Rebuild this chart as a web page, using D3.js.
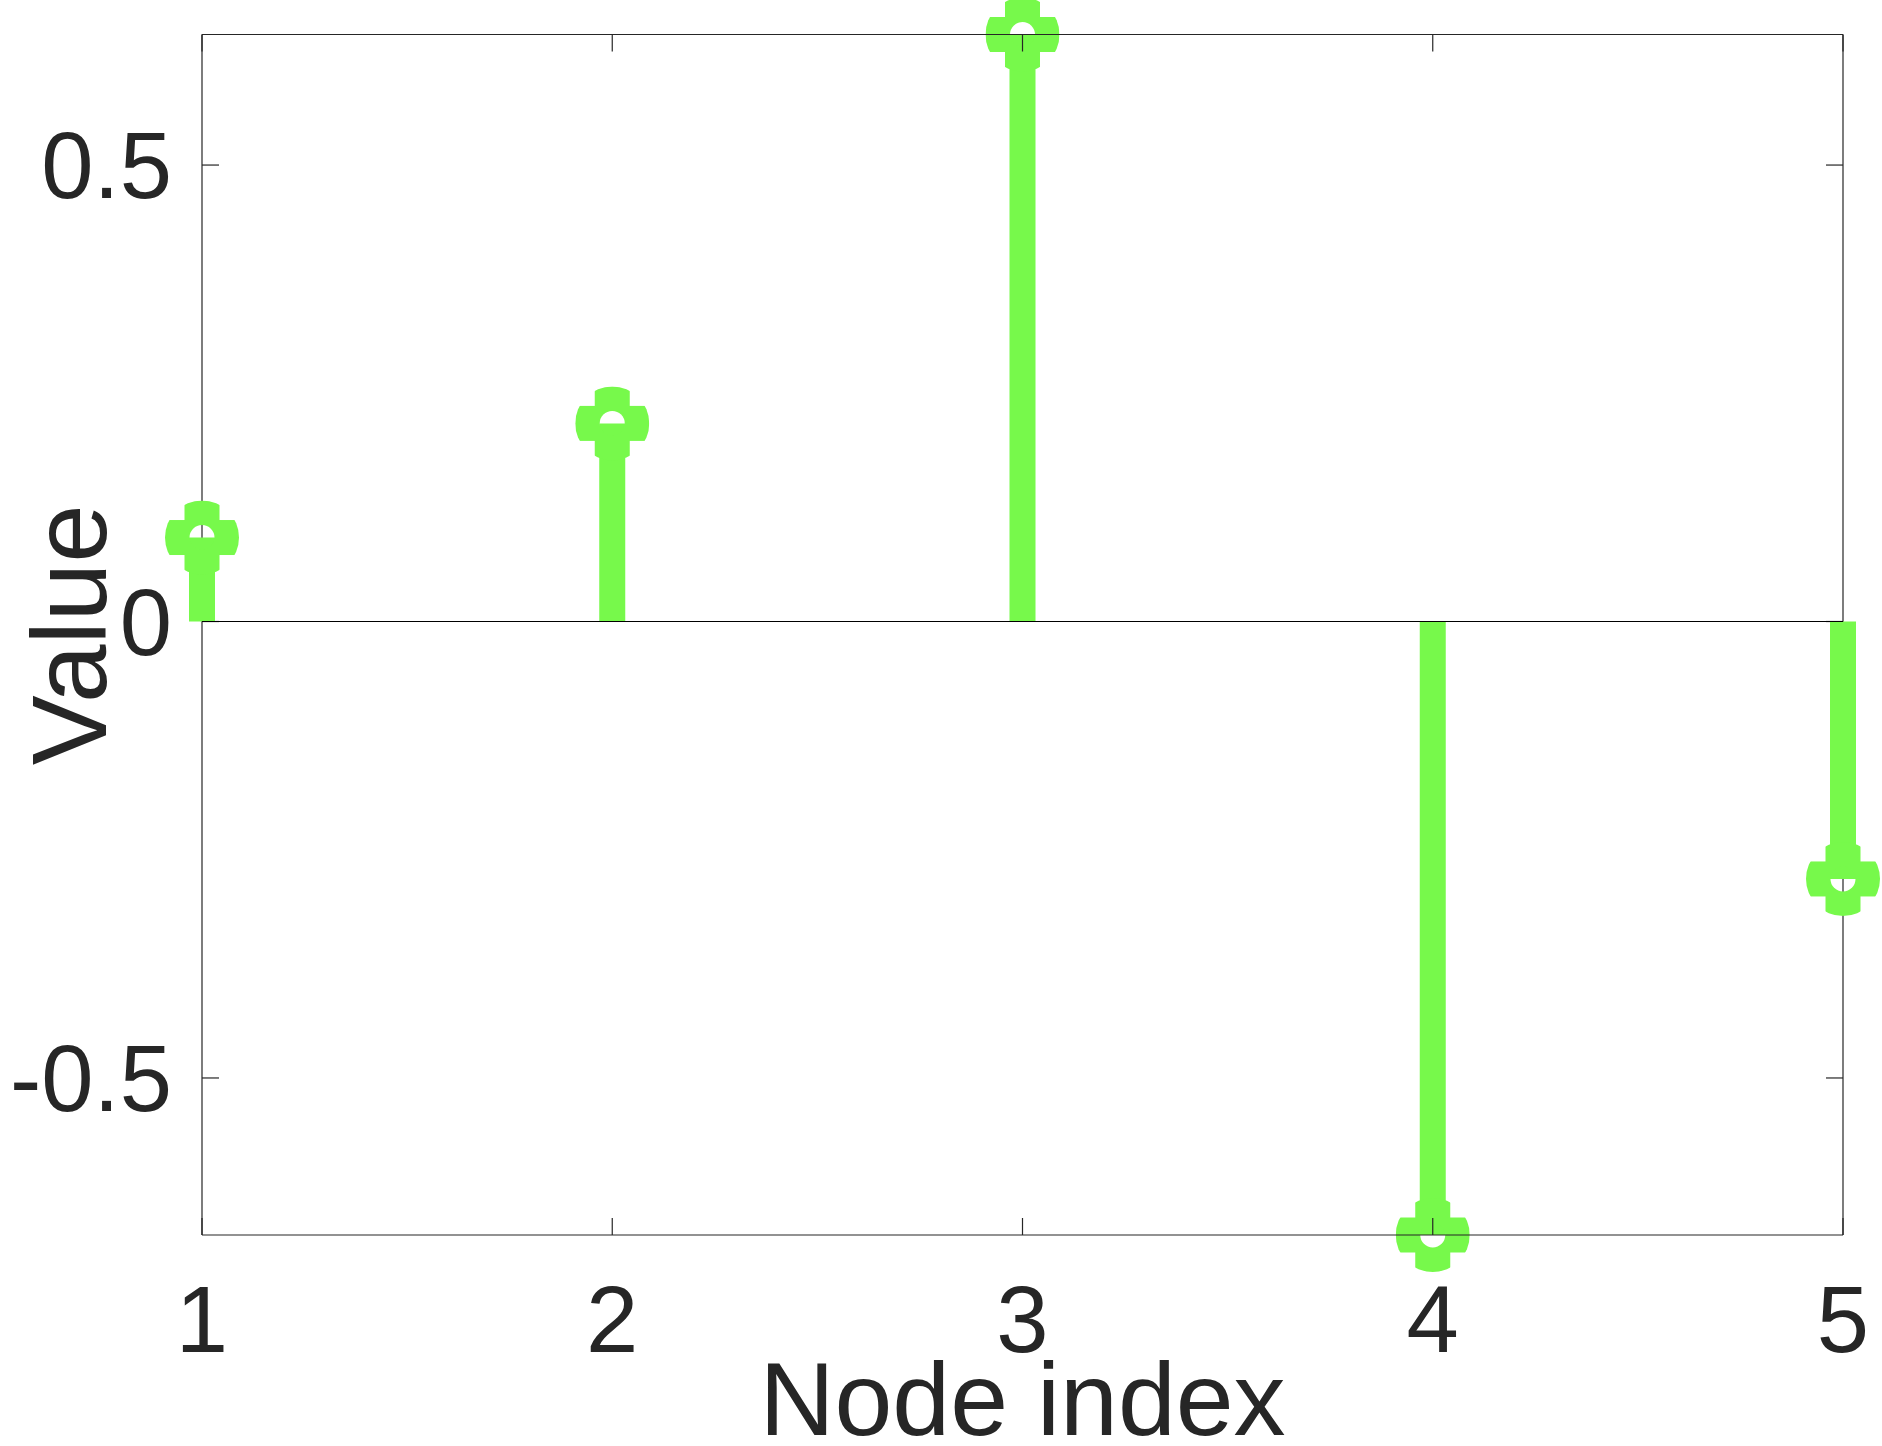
<!DOCTYPE html>
<html>
<head>
<meta charset="utf-8">
<script src="https://cdn.jsdelivr.net/npm/d3@7"></script>
<style>
  html, body { margin: 0; padding: 0; background: #fff; }
  svg { display: block; }
  text { font-family: "Liberation Sans", Arial, Helvetica, sans-serif; fill: #262626; }
</style>
</head>
<body>
<script>
// ---- data ----
const nodes = [1, 2, 3, 4, 5];
const values = [0.092, 0.217, 0.643, -0.672, -0.282];
const xTicks = [1, 2, 3, 4, 5];
const yTicks = [-0.5, 0, 0.5];
const yTickLabels = ["-0.5", "0", "0.5"];
const xLabel = "Node index";
const yLabel = "Value";

// ---- layout ----
const W = 1882, H = 1446;
const margin = { left: 202, right: 39, top: 34.5, bottom: 211 };
const green = "#77F94B";
const axisColor = "#262626";

const svg = d3.select("body").append("svg").attr("width", W).attr("height", H);

const x = d3.scaleLinear().domain([1, 5]).range([margin.left, W - margin.right]);
const y = d3.scaleLinear().domain([d3.min(values), d3.max(values)]).range([H - margin.bottom, margin.top]);

const x0 = x.range()[0], x1 = x.range()[1];
const yTop = y.range()[1], yBot = y.range()[0];
const tickLen = 17;

// marker mask: cross clipped by circle, with a hole
const R = 37, arm = 35, hole = 12.5;
const defs = svg.append("defs");
const mask = defs.append("mask").attr("id", "mk")
  .attr("maskUnits", "userSpaceOnUse")
  .attr("x", -60).attr("y", -60).attr("width", 120).attr("height", 120);
mask.append("rect").attr("x", -arm / 2).attr("y", -R).attr("width", arm).attr("height", 2 * R).attr("fill", "#fff");
mask.append("rect").attr("x", -R).attr("y", -arm / 2).attr("width", 2 * R).attr("height", arm).attr("fill", "#fff");
mask.append("circle").attr("r", hole).attr("fill", "#000");

// left & right box lines + y ticks (under data)
const under = svg.append("g").attr("stroke", axisColor).attr("stroke-width", 1.2).attr("fill", "none");
under.append("line").attr("x1", x0).attr("x2", x0).attr("y1", yTop).attr("y2", yBot);
under.append("line").attr("x1", x1).attr("x2", x1).attr("y1", yTop).attr("y2", yBot);
yTicks.forEach(t => {
  under.append("line").attr("x1", x0).attr("x2", x0 + tickLen).attr("y1", y(t)).attr("y2", y(t));
  under.append("line").attr("x1", x1).attr("x2", x1 - tickLen).attr("y1", y(t)).attr("y2", y(t));
});

const data = nodes.map((n, i) => ({ n, v: values[i] }));

// stems
svg.append("g").selectAll("line").data(data).join("line")
  .attr("x1", d => x(d.n)).attr("x2", d => x(d.n))
  .attr("y1", y(0)).attr("y2", d => y(d.v))
  .attr("stroke", green).attr("stroke-width", 26).attr("stroke-linecap", "butt");

// baseline
svg.append("line").attr("x1", x0).attr("x2", x1).attr("y1", y(0)).attr("y2", y(0))
  .attr("stroke", "#000").attr("stroke-width", 1.2);

// markers
svg.append("g").selectAll("g").data(data).join("g")
  .attr("transform", d => `translate(${x(d.n)},${y(d.v)})`)
  .append("circle").attr("r", R).attr("fill", green).attr("mask", "url(#mk)");

// top & bottom box lines + x ticks (over data)
const over = svg.append("g").attr("stroke", axisColor).attr("stroke-width", 1.2).attr("fill", "none");
over.append("line").attr("x1", x0).attr("x2", x1).attr("y1", yTop).attr("y2", yTop);
over.append("line").attr("x1", x0).attr("x2", x1).attr("y1", yBot).attr("y2", yBot);
xTicks.forEach(t => {
  over.append("line").attr("x1", x(t)).attr("x2", x(t)).attr("y1", yBot).attr("y2", yBot - tickLen);
  over.append("line").attr("x1", x(t)).attr("x2", x(t)).attr("y1", yTop).attr("y2", yTop + tickLen);
});

// tick labels
svg.append("g").selectAll("text").data(yTicks).join("text")
  .attr("x", 172).attr("y", d => y(d)).attr("dy", "0.355em")
  .attr("text-anchor", "end").attr("font-size", 94)
  .text((d, i) => yTickLabels[i]);

svg.append("g").selectAll("text").data(xTicks).join("text")
  .attr("x", d => x(d)).attr("y", 1352)
  .attr("text-anchor", "middle").attr("font-size", 94)
  .text(d => String(d));

// axis labels
svg.append("text").attr("x", (x0 + x1) / 2).attr("y", 1435)
  .attr("text-anchor", "middle").attr("font-size", 104).text(xLabel);

svg.append("text")
  .attr("transform", `translate(106,${(yTop + yBot) / 2}) rotate(-90)`)
  .attr("text-anchor", "middle").attr("font-size", 105).text(yLabel);
</script>
</body>
</html>
